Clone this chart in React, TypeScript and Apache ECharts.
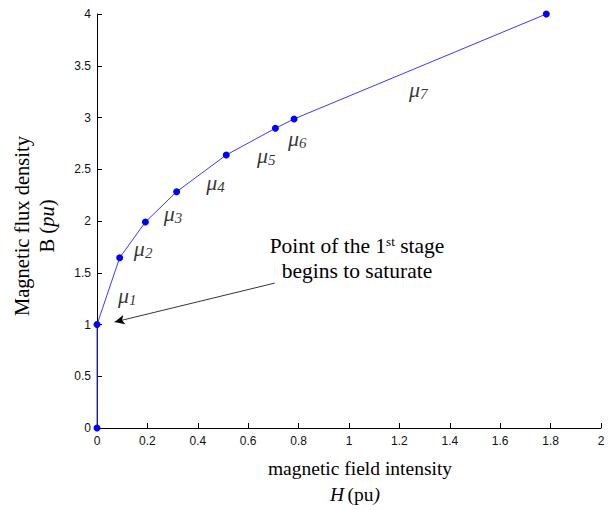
import React, { useEffect, useRef } from "react";
import * as echarts from "echarts";

const hValues = [0, 0, 0.09, 0.192, 0.316, 0.513, 0.708, 0.782, 1.783];
const bValues = [0, 1, 1.645, 1.99, 2.283, 2.638, 2.896, 2.986, 4];

const muIndex = ["1", "2", "3", "4", "5", "6", "7"];
const muH = [0.12, 0.183, 0.302, 0.47, 0.672, 0.795, 1.275];
const muB = [1.285, 1.73, 2.07, 2.37, 2.63, 2.8, 3.27];

const arrowFrom = [0.705, 1.4];
const arrowTo = [0.07, 1.024];

const xTicks = { min: 0, max: 2, interval: 0.2 };
const yTicks = { min: 0, max: 4, interval: 0.5 };

export default function App() {
  const ref = useRef<HTMLDivElement>(null);
  useEffect(() => {
    if (!ref.current) return;
    const chart = echarts.init(ref.current, undefined, { renderer: "svg" });
    const serif = "'Liberation Serif', 'Times New Roman', serif";
    const sans = "'Liberation Sans', Arial, sans-serif";
    const axisCommon = {
      axisLine: { show: true, onZero: false, lineStyle: { color: "#000", width: 1 } },
      axisTick: { show: true, inside: true, length: 5, lineStyle: { color: "#000" } },
      splitLine: { show: false },
      axisLabel: { color: "#111", fontFamily: sans, fontSize: 12 },
    };
    chart.setOption({
      animation: false,
      backgroundColor: "#fff",
      grid: { left: 97, right: 7, top: 14, bottom: 82, containLabel: false },
      xAxis: {
        type: "value",
        ...xTicks,
        ...axisCommon,
        axisLabel: { ...axisCommon.axisLabel, margin: 7 },
      },
      yAxis: {
        type: "value",
        ...yTicks,
        ...axisCommon,
        axisLabel: { ...axisCommon.axisLabel, margin: 6 },
      },
      series: [
        {
          type: "line",
          data: hValues.map((h, i) => [h, bValues[i]]),
          symbol: "circle",
          symbolSize: 7,
          itemStyle: { color: "#0000ff" },
          lineStyle: { color: "#3a3aff", width: 1 },
          z: 3,
          markLine: {
            silent: true,
            symbol: ["none", "arrow"],
            symbolSize: [7, 10],
            lineStyle: { color: "#000", width: 0.8, type: "solid" },
            label: { show: false },
            data: [[{ coord: arrowFrom }, { coord: arrowTo }]],
          },
        },
        {
          type: "scatter",
          data: muH.map((h, i) => [h, muB[i]]),
          symbolSize: 0,
          silent: true,
          label: {
            show: true,
            position: "inside",
            formatter: (p: any) => `{m|μ}{s|${muIndex[p.dataIndex]}}`,
            rich: {
              m: { fontFamily: serif, fontStyle: "italic", fontSize: 22, color: "#000" },
              s: {
                fontFamily: serif,
                fontStyle: "italic",
                fontSize: 15,
                color: "#000",
                padding: [9, 0, 0, 0],
              },
            },
          },
        },
      ],
      graphic: [
        {
          type: "text",
          x: 357,
          y: 246,
          style: {
            text: "{n|Point of the 1}{sup|st}{n| stage}",
            align: "center",
            verticalAlign: "middle",
            rich: {
              n: { fontFamily: serif, fontSize: 21.5, fill: "#000" },
              sup: { fontFamily: serif, fontSize: 13, fill: "#000", padding: [0, 0, 10, 0] },
            },
          },
        },
        {
          type: "text",
          x: 357,
          y: 271,
          style: {
            text: "begins to saturate",
            align: "center",
            verticalAlign: "middle",
            fontFamily: serif,
            fontSize: 21.5,
            fill: "#000",
          },
        },
        {
          type: "text",
          x: 360,
          y: 468,
          style: {
            text: "magnetic field intensity",
            align: "center",
            verticalAlign: "middle",
            fontFamily: serif,
            fontSize: 19.5,
            fill: "#000",
          },
        },
        {
          type: "text",
          x: 355,
          y: 494,
          style: {
            text: "{i|H} {n|(pu}{i|)}",
            align: "center",
            verticalAlign: "middle",
            rich: {
              i: { fontFamily: serif, fontSize: 19.5, fontStyle: "italic", fill: "#000" },
              n: { fontFamily: serif, fontSize: 19.5, fill: "#000" },
            },
          },
        },
        {
          type: "text",
          x: 22,
          y: 226,
          rotation: Math.PI / 2,
          style: {
            text: "Magnetic flux density",
            align: "center",
            verticalAlign: "middle",
            fontFamily: serif,
            fontSize: 20.5,
            fill: "#000",
          },
        },
        {
          type: "text",
          x: 47,
          y: 226,
          rotation: Math.PI / 2,
          style: {
            text: "{n|B (}{i|pu}{n|)}",
            align: "center",
            verticalAlign: "middle",
            rich: {
              i: { fontFamily: serif, fontSize: 20.5, fontStyle: "italic", fill: "#000" },
              n: { fontFamily: serif, fontSize: 20.5, fill: "#000" },
            },
          },
        },
      ],
    });
    return () => chart.dispose();
  }, []);
  return (
    <div
      ref={ref}
      style={{ position: "fixed", left: 0, top: 0, width: 608, height: 510, background: "#fff" }}
    />
  );
}
